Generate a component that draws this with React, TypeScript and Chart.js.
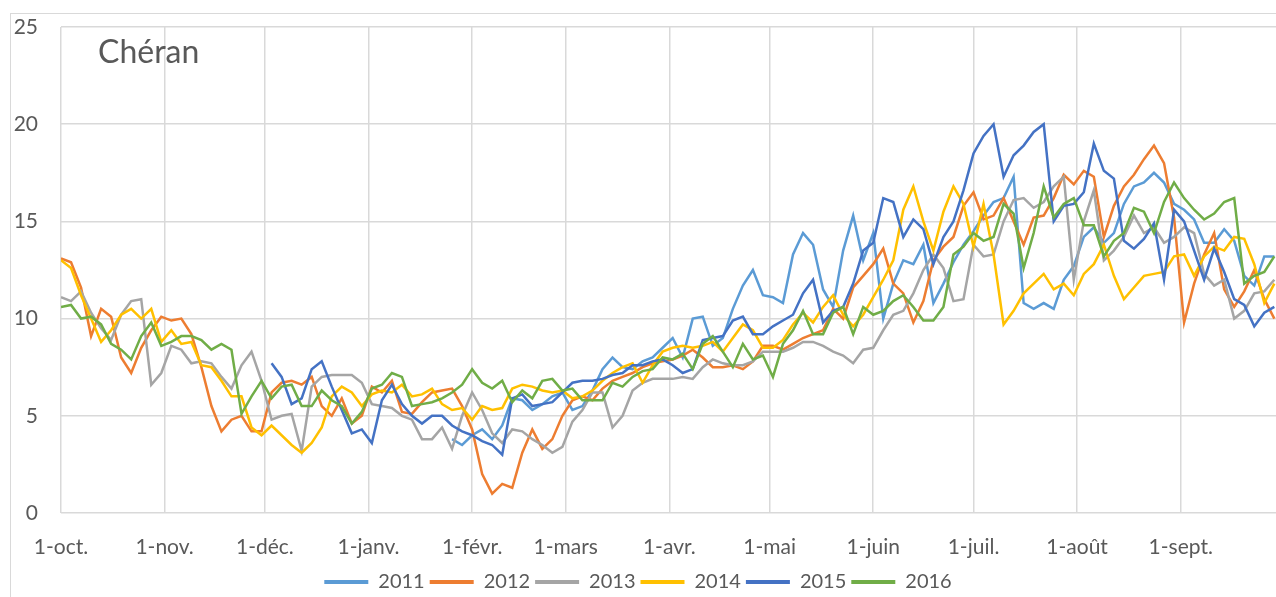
import React, { useEffect, useRef } from "react";
import { Chart, registerables } from "chart.js";

Chart.register(...registerables);

const STEP_DAYS = 3;
const TITLE = "Chéran";
const MONTH_LABELS = ["1-oct.", "1-nov.", "1-déc.", "1-janv.", "1-févr.", "1-mars", "1-avr.", "1-mai", "1-juin", "1-juil.", "1-août", "1-sept."];
const MONTH_DAYS = [0, 31, 61, 92, 123, 151, 182, 212, 243, 273, 304, 335];
const Y_TICKS = [0, 5, 10, 15, 20, 25];
const SERIES_NAMES = ["2011", "2012", "2013", "2014", "2015", "2016"];
const SERIES_COLORS = ["#5B9BD5", "#ED7D31", "#A5A5A5", "#FFC000", "#4472C4", "#70AD47"];
const SERIES_START_DAYS = [117, 0, 0, 0, 63, 0];

// water temperature (°C), one value every 3 days from each series' start day
const T2011 = [
  3.8,
  3.5, 4.0, 4.3, 3.8, 4.5, 5.9, 5.8, 5.3, 5.6, 6.0,
  6.2, 5.3, 5.5, 6.3, 7.4, 8.0, 7.5, 7.4, 7.8, 8.0,
  8.5, 9.0, 8.0, 10.0, 10.1, 8.6, 9.0, 10.5, 11.7, 12.5,
  11.2, 11.1, 10.8, 13.3, 14.4, 13.8, 11.5, 10.6, 13.5, 15.3,
  13.0, 14.4, 10.0, 11.8, 13.0, 12.8, 13.8, 10.8, 11.8, 12.9,
  13.8, 14.5, 15.3, 16.0, 16.2, 17.3, 10.8, 10.5, 10.8, 10.5,
  12.0, 12.7, 14.2, 14.7, 13.9, 14.4, 15.9, 16.8, 17.0, 17.5,
  17.0, 15.9, 15.6, 15.1, 13.9, 13.9, 14.6, 14.0, 12.2, 11.7,
  13.2, 13.2,
];

const T2012 = [
  13.1, 12.9, 11.6, 9.1, 10.5, 10.1, 8.0, 7.2, 8.5, 9.4,
  10.1, 9.9, 10.0, 9.2, 7.5, 5.5, 4.2, 4.8, 5.0, 4.2,
  4.2, 6.2, 6.7, 6.8, 6.6, 7.0, 5.5, 5.0, 5.9, 4.6,
  5.0, 6.5, 6.2, 6.8, 5.2, 5.1, 5.7, 6.2, 6.3, 6.4,
  5.5, 4.3, 2.0, 1.0, 1.5, 1.3, 3.1, 4.3, 3.3, 3.8,
  5.0, 5.8, 6.0, 5.8, 6.4, 6.8, 7.0, 7.2, 7.5, 7.7,
  7.8, 7.9, 8.1, 8.4, 8.0, 7.5, 7.5, 7.6, 7.4, 7.8,
  8.6, 8.6, 8.4, 8.7, 9.0, 9.2, 9.4, 10.5, 10.0, 11.6,
  12.2, 12.8, 13.6, 11.8, 11.3, 9.8, 10.9, 13.0, 13.7, 14.2,
  15.8, 16.5, 15.1, 15.3, 16.2, 15.0, 13.8, 15.2, 15.3, 16.2,
  17.4, 16.9, 17.6, 17.3, 14.2, 15.8, 16.8, 17.4, 18.2, 18.9,
  18.0, 15.2, 9.8, 11.8, 13.3, 14.4, 11.5, 10.6, 11.4, 12.5,
  11.0, 10.0,
];

const T2013 = [
  11.1, 10.9, 11.4, 10.3, 9.5, 8.9, 10.2, 10.9, 11.0, 6.6,
  7.2, 8.6, 8.4, 7.7, 7.8, 7.7, 7.0, 6.4, 7.6, 8.3,
  6.8, 4.8, 5.0, 5.1, 3.2, 6.5, 7.0, 7.1, 7.1, 7.1,
  6.7, 5.6, 5.5, 5.4, 5.0, 4.8, 3.8, 3.8, 4.4, 3.3,
  5.0, 6.2, 5.3, 4.1, 3.6, 4.3, 4.2, 3.8, 3.5, 3.1,
  3.4, 4.7, 5.3, 6.2, 6.2, 4.4, 5.0, 6.3, 6.7, 6.9,
  6.9, 6.9, 7.0, 6.9, 7.5, 7.9, 7.7, 7.6, 7.6, 7.8,
  8.3, 8.3, 8.3, 8.5, 8.8, 8.8, 8.6, 8.3, 8.1, 7.7,
  8.4, 8.5, 9.4, 10.2, 10.4, 11.3, 12.5, 13.3, 12.6, 10.9,
  11.0, 13.8, 13.2, 13.3, 15.0, 16.1, 16.2, 15.7, 16.0, 16.8,
  17.3, 12.0, 15.0, 16.6, 13.0, 13.5, 14.2, 15.3, 14.4, 14.7,
  13.9, 14.2, 14.7, 14.4, 12.3, 11.7, 12.0, 10.0, 10.4, 11.3,
  11.4, 12.0,
];

const T2014 = [
  13.0, 12.6, 11.2, 10.0, 8.8, 9.4, 10.2, 10.5, 10.0, 10.5,
  8.8, 9.4, 8.7, 8.8, 7.6, 7.5, 6.8, 6.0, 6.0, 4.4,
  4.0, 4.5, 4.0, 3.5, 3.1, 3.6, 4.4, 6.0, 6.5, 6.2,
  5.5, 6.1, 6.3, 6.2, 6.6, 6.0, 6.1, 6.4, 5.6, 5.3,
  5.4, 4.8, 5.5, 5.3, 5.4, 6.4, 6.6, 6.5, 6.3, 6.2,
  6.3, 5.9, 6.0, 6.3, 6.8, 7.2, 7.5, 7.7, 6.7, 7.6,
  8.3, 8.5, 8.6, 8.5, 8.6, 8.8, 8.3, 9.0, 9.7, 9.4,
  8.5, 8.5, 8.9, 9.7, 10.3, 9.8, 10.6, 11.2, 10.2, 9.6,
  10.2, 11.1, 12.0, 13.0, 15.6, 16.8, 15.0, 13.5, 15.5, 16.8,
  15.9, 13.7, 15.9, 13.3, 9.7, 10.4, 11.3, 11.8, 12.3, 11.5,
  11.8, 11.2, 12.3, 12.8, 13.8, 12.2, 11.0, 11.6, 12.2, 12.3,
  12.4, 13.2, 13.3, 12.2, 13.2, 13.7, 13.5, 14.2, 14.1, 12.8,
  10.8, 11.8,
];

const T2015 = [
  7.7, 7.0, 5.6, 5.9, 7.4, 7.8, 6.5, 5.3, 4.1,
  4.3, 3.6, 5.8, 6.6, 5.6, 5.0, 4.6, 5.0, 5.0, 4.5,
  4.2, 4.0, 3.7, 3.5, 3.0, 5.9, 6.1, 5.5, 5.6, 5.7,
  6.2, 6.7, 6.8, 6.8, 6.9, 7.1, 7.2, 7.6, 7.6, 7.8,
  7.9, 7.6, 7.2, 7.4, 8.9, 9.0, 9.1, 9.9, 10.1, 9.2,
  9.2, 9.6, 9.9, 10.2, 11.3, 12.0, 9.8, 10.4, 10.6, 11.8,
  13.5, 13.9, 16.2, 16.0, 14.2, 15.1, 14.6, 12.8, 14.2, 15.0,
  16.6, 18.5, 19.4, 20.0, 17.3, 18.4, 18.9, 19.6, 20.0, 15.0,
  15.8, 15.9, 16.5, 19.0, 17.6, 17.2, 14.0, 13.6, 14.1, 14.9,
  12.0, 15.6, 15.0, 13.5, 12.0, 13.6, 12.4, 11.0, 10.7, 9.6,
  10.3, 10.6,
];

const T2016 = [
  10.6, 10.7, 10.0, 10.1, 9.7, 8.7, 8.4, 7.9, 9.1, 9.8,
  8.6, 8.8, 9.1, 9.1, 8.9, 8.4, 8.7, 8.4, 5.1, 6.0,
  6.8, 5.9, 6.5, 6.6, 5.5, 5.5, 6.3, 5.8, 5.5, 4.6,
  5.2, 6.4, 6.6, 7.2, 7.0, 5.5, 5.6, 5.7, 5.9, 6.2,
  6.6, 7.4, 6.7, 6.4, 6.8, 5.7, 6.3, 5.9, 6.8, 6.9,
  6.3, 6.4, 5.8, 5.8, 5.8, 6.7, 6.5, 7.0, 7.3, 7.4,
  8.0, 7.9, 8.2, 7.4, 8.7, 9.1, 8.3, 7.5, 8.7, 7.9,
  8.1, 7.0, 8.7, 9.4, 10.4, 9.2, 9.2, 10.3, 10.6, 9.2,
  10.6, 10.2, 10.4, 10.9, 11.2, 10.6, 9.9, 9.9, 10.6, 13.3,
  13.7, 14.4, 14.0, 14.2, 15.9, 15.4, 12.6, 14.4, 16.8, 15.2,
  15.9, 16.2, 14.8, 14.8, 13.2, 14.0, 14.4, 15.7, 15.5, 14.4,
  16.0, 17.0, 16.2, 15.6, 15.1, 15.4, 16.0, 16.2, 11.8, 12.2,
  12.4, 13.2,
];

const SERIES_VALUES = [T2011, T2012, T2013, T2014, T2015, T2016];

const TEXT_COLOR = "#595959";
const GRID_COLOR = "#d9d9d9";
const FONT_FAMILY = "Lato, 'Open Sans', sans-serif";

const innerTitle = {
  id: "innerTitle",
  beforeDatasetsDraw(chart: any) {
    const { ctx, chartArea } = chart;
    ctx.save();
    ctx.font = `32px ${FONT_FAMILY}`;
    ctx.fillStyle = TEXT_COLOR;
    ctx.textBaseline = "alphabetic";
    ctx.textAlign = "left";
    ctx.fillText(TITLE, chartArea.left + 37, chartArea.top + 36);
    ctx.restore();
  },
};

export default function App() {
  const canvasRef = useRef<HTMLCanvasElement | null>(null);

  useEffect(() => {
    if (!canvasRef.current) return;
    const datasets = SERIES_NAMES.map((name, i) => ({
      label: name,
      data: SERIES_VALUES[i].map((v, k) => ({ x: SERIES_START_DAYS[i] + k * STEP_DAYS, y: v })),
      borderColor: SERIES_COLORS[i],
      backgroundColor: SERIES_COLORS[i],
      borderWidth: 2.5,
      pointRadius: 0,
      tension: 0,
      fill: false,
      order: SERIES_NAMES.length - i,
    }));

    const chart = new Chart(canvasRef.current, {
      type: "line",
      data: { datasets },
      plugins: [innerTitle],
      options: {
        animation: false,
        responsive: true,
        maintainAspectRatio: false,
        layout: { padding: { top: 27, left: 0, right: 0, bottom: -5 } },
        plugins: {
          tooltip: { enabled: false },
          legend: {
            position: "bottom",
            labels: {
              boxWidth: 44,
              boxHeight: 4,
              padding: 5,
              color: TEXT_COLOR,
              font: { size: 20, family: FONT_FAMILY },
              sort: (a: any, b: any) => a.datasetIndex - b.datasetIndex,
              generateLabels: (c: any) =>
                (Chart.defaults.plugins.legend.labels.generateLabels as any)(c).map((it: any) => ({
                  ...it,
                  lineWidth: 0,
                  fillStyle: it.strokeStyle,
                })),
            },
          },
        },
        scales: {
          x: {
            type: "linear",
            min: 0,
            max: 363.5,
            afterBuildTicks: (s: any) => {
              s.ticks = MONTH_DAYS.map((v) => ({ value: v }));
            },
            afterFit: (s: any) => {
              s.height = 54;
            },
            ticks: {
              autoSkip: false,
              maxRotation: 0,
              padding: 0,
              color: TEXT_COLOR,
              font: { size: 21, family: FONT_FAMILY },
              callback: (v: any) => {
                const k = MONTH_DAYS.indexOf(Number(v));
                return k >= 0 ? MONTH_LABELS[k] : "";
              },
            },
            grid: { color: GRID_COLOR, lineWidth: 1.5, drawTicks: true, tickLength: 22, tickColor: "rgba(0,0,0,0)" },
            border: { display: false },
          },
          y: {
            min: 0,
            max: 25,
            afterBuildTicks: (s: any) => {
              s.ticks = Y_TICKS.map((v) => ({ value: v }));
            },
            afterFit: (s: any) => {
              s.width = 61;
            },
            ticks: {
              padding: 0,
              color: TEXT_COLOR,
              font: { size: 21, family: FONT_FAMILY },
            },
            grid: { color: GRID_COLOR, lineWidth: 1.5, drawTicks: true, tickLength: 23, tickColor: "rgba(0,0,0,0)" },
            border: { display: false },
          },
        },
      },
    });
    return () => chart.destroy();
  }, []);

  return (
    <div
      style={{
        position: "fixed",
        left: 0,
        top: 0,
        width: 1276,
        height: 597,
        overflow: "hidden",
        background: "#ffffff",
      }}
    >
      <div
        style={{
          position: "absolute",
          left: 10,
          top: 13,
          width: 1320,
          height: 640,
          border: "1.5px solid #d9d9d9",
        }}
      />
      <div style={{ position: "absolute", left: 0, top: 0, width: 1276, height: 597 }}>
        <canvas ref={canvasRef} />
      </div>
    </div>
  );
}
